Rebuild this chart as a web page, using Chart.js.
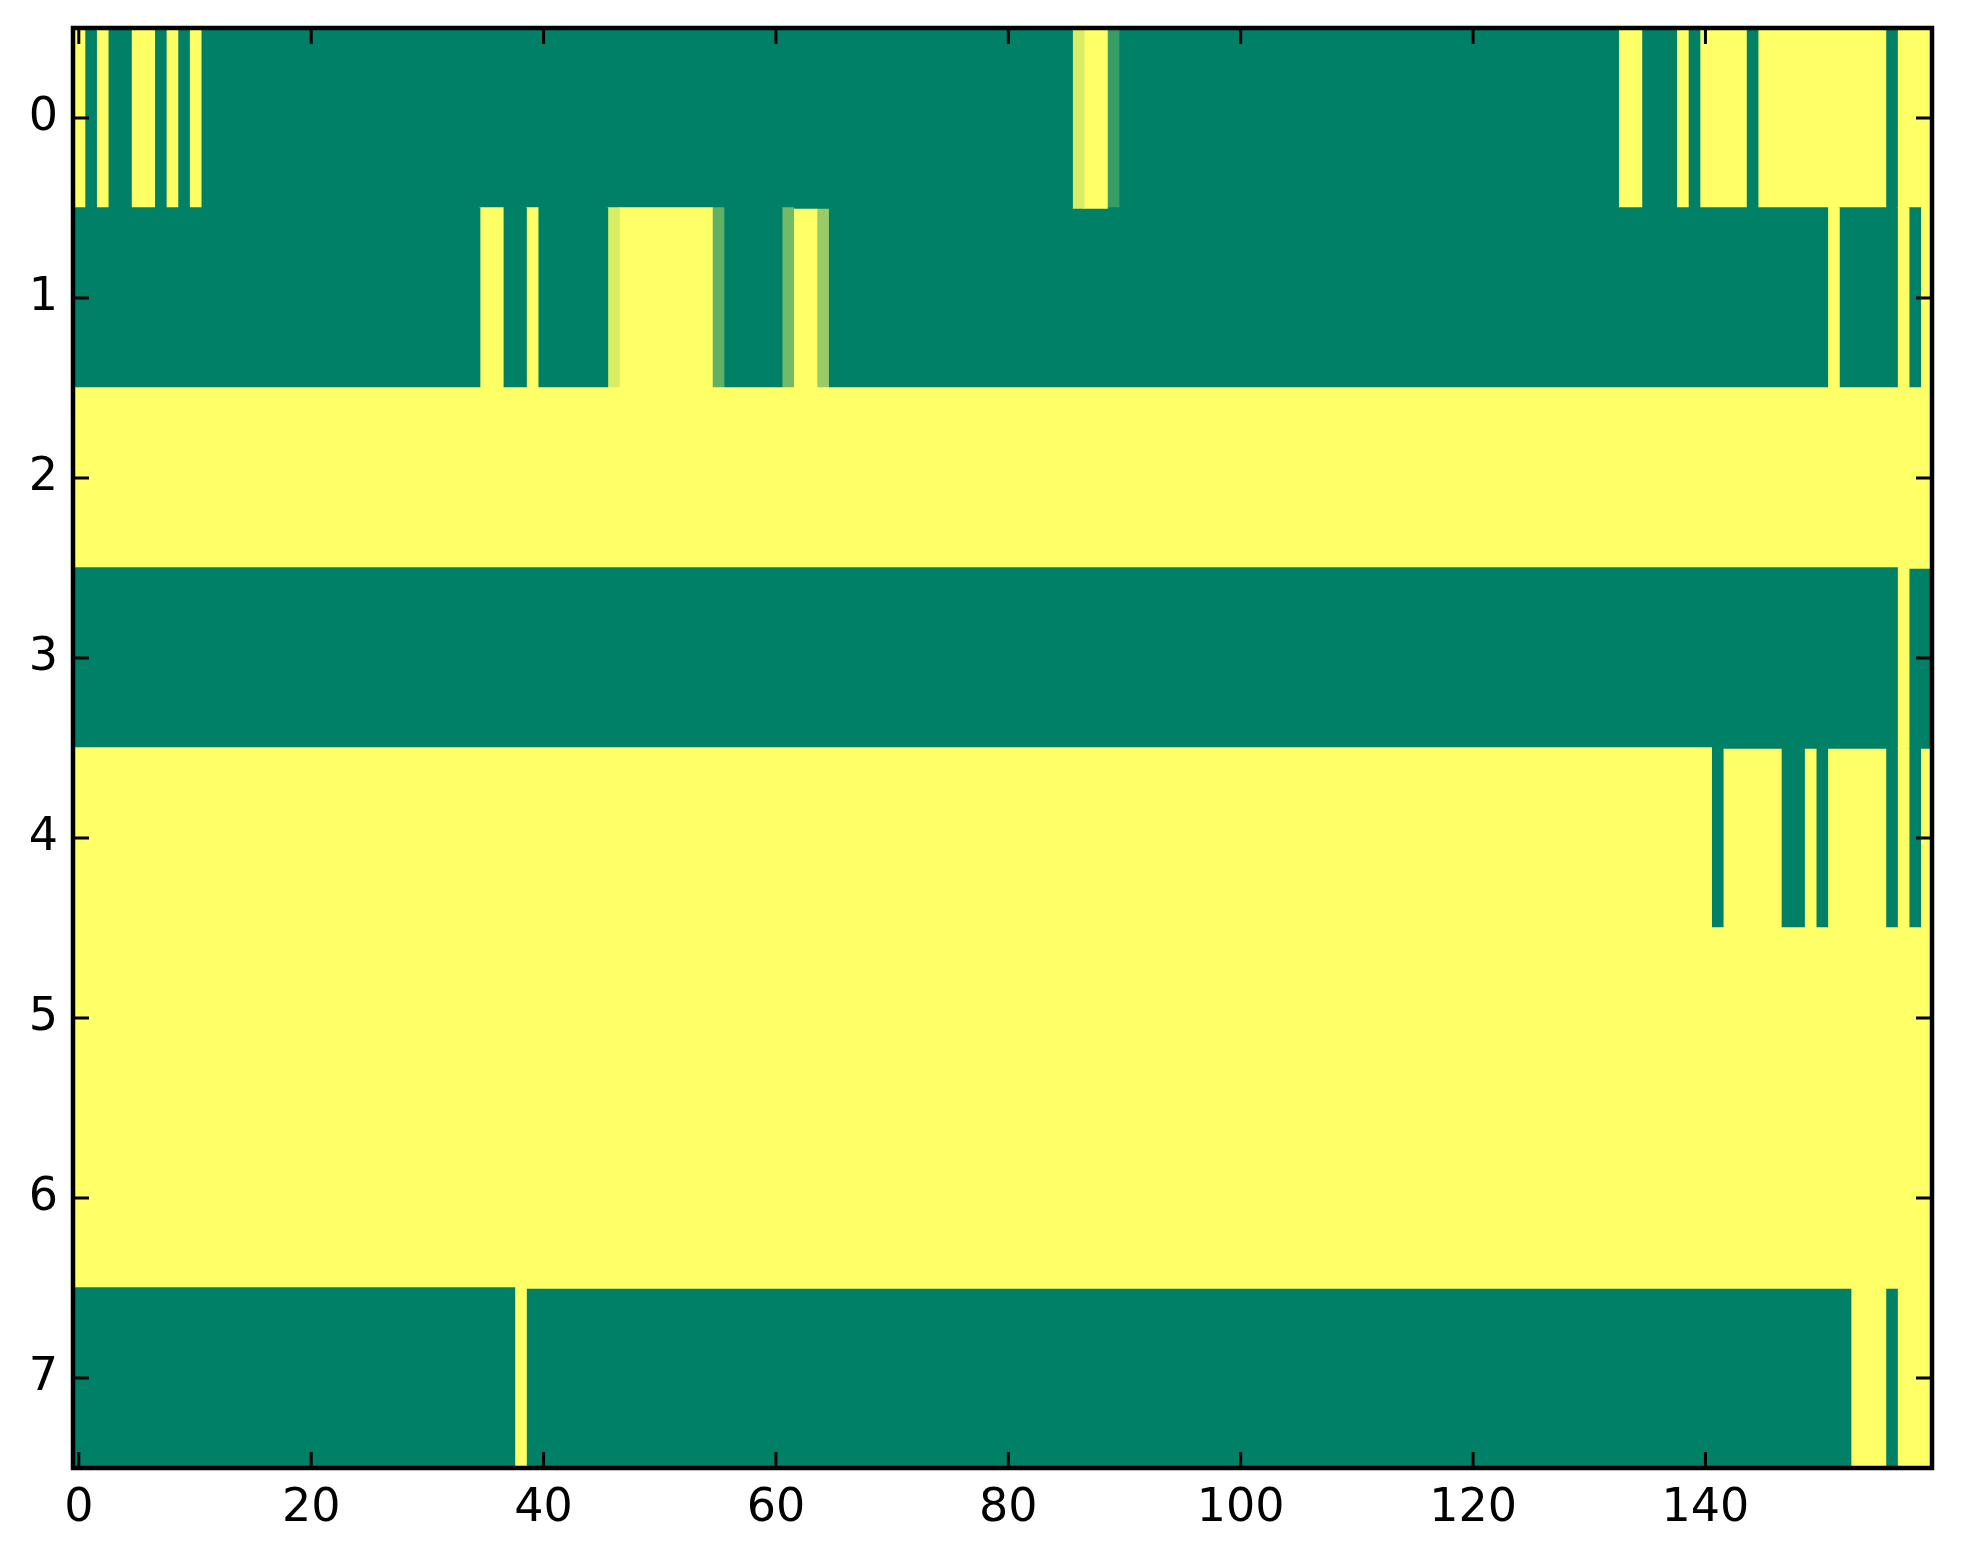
<!DOCTYPE html>
<html>
<head>
<meta charset="utf-8">
<script src="https://cdn.jsdelivr.net/npm/chart.js@4.4.1/dist/chart.umd.min.js"></script>
<style>
  html, body { margin: 0; padding: 0; background: #ffffff; }
  #wrap { width: 1963px; height: 1564px; position: relative; }
</style>
</head>
<body>
<div id="wrap"><canvas id="c"></canvas></div>
<script>
// ---- data (0 = green, 1 = yellow) ----
const rowLabels = ['0', '1', '2', '3', '4', '5', '6', '7'];
const xTickValues = [0, 20, 40, 60, 80, 100, 120, 140];

const row0 = [
  1,0,1,0,0,1,1,0,1,0, 1,0,0,0,0,0,0,0,0,0,
  0,0,0,0,0,0,0,0,0,0, 0,0,0,0,0,0,0,0,0,0,
  0,0,0,0,0,0,0,0,0,0, 0,0,0,0,0,0,0,0,0,0,
  0,0,0,0,0,0,0,0,0,0, 0,0,0,0,0,0,0,0,0,0,
  0,0,0,0,0,0,0.85,1,1,0.22, 0,0,0,0,0,0,0,0,0,0,
  0,0,0,0,0,0,0,0,0,0, 0,0,0,0,0,0,0,0,0,0,
  0,0,0,0,0,0,0,0,0,0, 0,0,0,1,1,0,0,0,1,0,
  1,1,1,1,0,1,1,1,1,1, 1,1,1,1,1,1,0,1,1,1
];
const row1 = [
  0,0,0,0,0,0,0,0,0,0, 0,0,0,0,0,0,0,0,0,0,
  0,0,0,0,0,0,0,0,0,0, 0,0,0,0,0,1,1,0,0,1,
  0,0,0,0,0,0,0.85,1,1,1, 1,1,1,1,1,0.38,0,0,0,0,
  0,0.45,1,1,0.6,0,0,0,0,0, 0,0,0,0,0,0,0,0,0,0,
  0,0,0,0,0,0,0,0,0,0, 0,0,0,0,0,0,0,0,0,0,
  0,0,0,0,0,0,0,0,0,0, 0,0,0,0,0,0,0,0,0,0,
  0,0,0,0,0,0,0,0,0,0, 0,0,0,0,0,0,0,0,0,0,
  0,0,0,0,0,0,0,0,0,0, 0,1,0,0,0,0,0,1,0,1
];
const row2 = [
  1,1,1,1,1,1,1,1,1,1, 1,1,1,1,1,1,1,1,1,1,
  1,1,1,1,1,1,1,1,1,1, 1,1,1,1,1,1,1,1,1,1,
  1,1,1,1,1,1,1,1,1,1, 1,1,1,1,1,1,1,1,1,1,
  1,1,1,1,1,1,1,1,1,1, 1,1,1,1,1,1,1,1,1,1,
  1,1,1,1,1,1,1,1,1,1, 1,1,1,1,1,1,1,1,1,1,
  1,1,1,1,1,1,1,1,1,1, 1,1,1,1,1,1,1,1,1,1,
  1,1,1,1,1,1,1,1,1,1, 1,1,1,1,1,1,1,1,1,1,
  1,1,1,1,1,1,1,1,1,1, 1,1,1,1,1,1,1,1,1,1
];
const row3 = [
  0,0,0,0,0,0,0,0,0,0, 0,0,0,0,0,0,0,0,0,0,
  0,0,0,0,0,0,0,0,0,0, 0,0,0,0,0,0,0,0,0,0,
  0,0,0,0,0,0,0,0,0,0, 0,0,0,0,0,0,0,0,0,0,
  0,0,0,0,0,0,0,0,0,0, 0,0,0,0,0,0,0,0,0,0,
  0,0,0,0,0,0,0,0,0,0, 0,0,0,0,0,0,0,0,0,0,
  0,0,0,0,0,0,0,0,0,0, 0,0,0,0,0,0,0,0,0,0,
  0,0,0,0,0,0,0,0,0,0, 0,0,0,0,0,0,0,0,0,0,
  0,0,0,0,0,0,0,0,0,0, 0,0,0,0,0,0,0,1,0,0
];
const row4 = [
  1,1,1,1,1,1,1,1,1,1, 1,1,1,1,1,1,1,1,1,1,
  1,1,1,1,1,1,1,1,1,1, 1,1,1,1,1,1,1,1,1,1,
  1,1,1,1,1,1,1,1,1,1, 1,1,1,1,1,1,1,1,1,1,
  1,1,1,1,1,1,1,1,1,1, 1,1,1,1,1,1,1,1,1,1,
  1,1,1,1,1,1,1,1,1,1, 1,1,1,1,1,1,1,1,1,1,
  1,1,1,1,1,1,1,1,1,1, 1,1,1,1,1,1,1,1,1,1,
  1,1,1,1,1,1,1,1,1,1, 1,1,1,1,1,1,1,1,1,1,
  1,0,1,1,1,1,1,0,0,1, 0,1,1,1,1,1,0,1,0,1
];
const row5 = [
  1,1,1,1,1,1,1,1,1,1, 1,1,1,1,1,1,1,1,1,1,
  1,1,1,1,1,1,1,1,1,1, 1,1,1,1,1,1,1,1,1,1,
  1,1,1,1,1,1,1,1,1,1, 1,1,1,1,1,1,1,1,1,1,
  1,1,1,1,1,1,1,1,1,1, 1,1,1,1,1,1,1,1,1,1,
  1,1,1,1,1,1,1,1,1,1, 1,1,1,1,1,1,1,1,1,1,
  1,1,1,1,1,1,1,1,1,1, 1,1,1,1,1,1,1,1,1,1,
  1,1,1,1,1,1,1,1,1,1, 1,1,1,1,1,1,1,1,1,1,
  1,1,1,1,1,1,1,1,1,1, 1,1,1,1,1,1,1,1,1,1
];
const row6 = [
  1,1,1,1,1,1,1,1,1,1, 1,1,1,1,1,1,1,1,1,1,
  1,1,1,1,1,1,1,1,1,1, 1,1,1,1,1,1,1,1,1,1,
  1,1,1,1,1,1,1,1,1,1, 1,1,1,1,1,1,1,1,1,1,
  1,1,1,1,1,1,1,1,1,1, 1,1,1,1,1,1,1,1,1,1,
  1,1,1,1,1,1,1,1,1,1, 1,1,1,1,1,1,1,1,1,1,
  1,1,1,1,1,1,1,1,1,1, 1,1,1,1,1,1,1,1,1,1,
  1,1,1,1,1,1,1,1,1,1, 1,1,1,1,1,1,1,1,1,1,
  1,1,1,1,1,1,1,1,1,1, 1,1,1,1,1,1,1,1,1,1
];
const row7 = [
  0,0,0,0,0,0,0,0,0,0, 0,0,0,0,0,0,0,0,0,0,
  0,0,0,0,0,0,0,0,0,0, 0,0,0,0,0,0,0,0,1,0,
  0,0,0,0,0,0,0,0,0,0, 0,0,0,0,0,0,0,0,0,0,
  0,0,0,0,0,0,0,0,0,0, 0,0,0,0,0,0,0,0,0,0,
  0,0,0,0,0,0,0,0,0,0, 0,0,0,0,0,0,0,0,0,0,
  0,0,0,0,0,0,0,0,0,0, 0,0,0,0,0,0,0,0,0,0,
  0,0,0,0,0,0,0,0,0,0, 0,0,0,0,0,0,0,0,0,0,
  0,0,0,0,0,0,0,0,0,0, 0,0,0,1,1,1,0,1,1,1
];
const rows = [row0, row1, row2, row3, row4, row5, row6, row7];

// ---- matplotlib "summer" colormap ----
function summer(v) {
  const r = Math.round(255 * v);
  const g = Math.round(255 * (0.5 + v / 2));
  return 'rgb(' + r + ',' + g + ',102)';
}

// merge equal neighbouring cells of a row into runs (one floating bar per run)
const runsByRow = rows.map(function (r) {
  const runs = [];
  let s = 0;
  for (let i = 1; i <= r.length; i++) {
    if (i === r.length || r[i] !== r[s]) {
      runs.push({ start: s - 0.5, end: i - 0.5, v: r[s] });
      s = i;
    }
  }
  return runs;
});
const maxRuns = Math.max.apply(null, runsByRow.map(function (r) { return r.length; }));
const datasets = [];
for (let j = 0; j < maxRuns; j++) {
  datasets.push({
    data: runsByRow.map(function (runs) { return runs[j] ? [runs[j].start, runs[j].end] : null; }),
    backgroundColor: runsByRow.map(function (runs) { return runs[j] ? summer(runs[j].v) : 'rgba(0,0,0,0)'; }),
    borderWidth: 0,
    inflateAmount: 0.7,
    grouped: false,
    barPercentage: 1,
    categoryPercentage: 1
  });
}

// frame + inward tick marks, like matplotlib classic style
const framePlugin = {
  id: 'frame',
  afterDraw: function (chart) {
    const ctx = chart.ctx;
    const a = chart.chartArea;
    const xs = chart.scales.x, ys = chart.scales.y;
    const tl = 16;
    ctx.save();
    ctx.strokeStyle = '#000';
    ctx.lineWidth = 3;
    ctx.beginPath();
    xs.ticks.forEach(function (t) {
      const px = xs.getPixelForValue(t.value);
      ctx.moveTo(px, a.bottom); ctx.lineTo(px, a.bottom - tl);
      ctx.moveTo(px, a.top); ctx.lineTo(px, a.top + tl);
    });
    ys.ticks.forEach(function (t, i) {
      const py = ys.getPixelForTick(i);
      ctx.moveTo(a.left, py); ctx.lineTo(a.left + tl, py);
      ctx.moveTo(a.right, py); ctx.lineTo(a.right - tl, py);
    });
    ctx.stroke();
    ctx.lineWidth = 4.5;
    ctx.strokeRect(a.left, a.top, a.right - a.left, a.bottom - a.top);
    ctx.restore();
  }
};

new Chart(document.getElementById('c'), {
  type: 'bar',
  data: { labels: rowLabels, datasets: datasets },
  options: {
    indexAxis: 'y',
    responsive: true,
    maintainAspectRatio: false,
    devicePixelRatio: 1,
    animation: false,
    layout: { padding: { left: 0, top: 28, right: 31, bottom: 0 } },
    plugins: { legend: { display: false }, tooltip: { enabled: false } },
    scales: {
      x: {
        type: 'linear',
        min: -0.5,
        max: 159.5,
        grid: { display: false, drawTicks: false },
        border: { display: false },
        afterBuildTicks: function (s) { s.ticks = xTickValues.map(function (v) { return { value: v }; }); },
        afterFit: function (s) { s.height = 96; s.paddingLeft = 0; s.paddingRight = 0; },
        ticks: {
          color: '#000',
          padding: 13,
          font: { family: 'DejaVu Sans', size: 46 },
          maxRotation: 0,
          autoSkip: false
        }
      },
      y: {
        type: 'category',
        grid: { display: false, drawTicks: false },
        border: { display: false },
        afterFit: function (s) { s.width = 73; s.paddingTop = 0; s.paddingBottom = 0; },
        ticks: {
          color: '#000',
          padding: 15,
          font: { family: 'DejaVu Sans', size: 46 }
        }
      }
    }
  },
  plugins: [framePlugin]
});
</script>
</body>
</html>
